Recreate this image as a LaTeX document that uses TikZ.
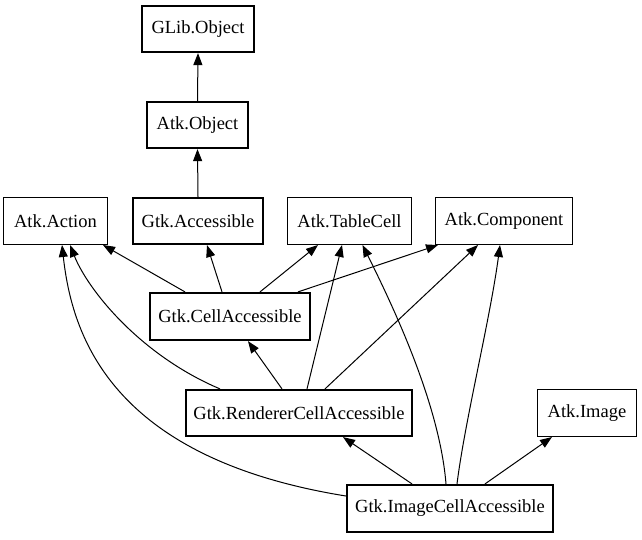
\documentclass[tikz,border=0pt]{standalone}
\usepackage{fontspec}
\setmainfont{Liberation Serif}
\usetikzlibrary{arrows.meta,calc}
\tikzset{
  cls/.style={draw, rectangle, inner sep=0pt, font=\fontsize{18.5}{20}\selectfont, fill=white},
  thickcls/.style={cls, line width=2.2pt},
  thincls/.style={cls, line width=1pt},
  inh/.style={draw, line width=1pt, -{Triangle[length=12pt,width=9pt]}}
}
\begin{document}
\begin{tikzpicture}[x=1pt,y=-1pt]
\useasboundingbox[fill=white] (0,0) rectangle (642,539);
\node[thickcls, minimum width=112pt, minimum height=46pt] (glib) at (198,29) {GLib.Object};
\node[thickcls, minimum width=101pt, minimum height=46pt] (atkobj) at (197.5,125) {Atk.Object};
\node[thincls, minimum width=104pt, minimum height=47pt] (action) at (55.5,221) {Atk.Action};
\node[thickcls, minimum width=130pt, minimum height=46pt] (gtkacc) at (198,221) {Gtk.Accessible};
\node[thincls, minimum width=124pt, minimum height=47pt] (table) at (349.5,221) {Atk.TableCell};
\node[thincls, minimum width=137pt, minimum height=47pt] (comp) at (504,221) {Atk.Component};
\node[thickcls, minimum width=160pt, minimum height=47pt] (cell) at (230,316.5) {Gtk.CellAccessible};
\node[thickcls, minimum width=226pt, minimum height=46pt] (rend) at (299,413) {Gtk.RendererCellAccessible};
\node[thincls, minimum width=99pt, minimum height=47pt] (img) at (587,413) {Atk.Image};
\node[thickcls, minimum width=206pt, minimum height=47pt] (imgcell) at (450,508.5) {Gtk.ImageCellAccessible};

\path[inh] (atkobj.north) -- (glib.south);
\path[inh] (gtkacc.north) -- (atkobj.south);

\path[inh] ($(cell.north)+(-45,0)$) -- ($(action.south)+(47.5,0)$);
\path[inh] ($(cell.north)+(-8,0)$) -- ($(gtkacc.south)+(9,0)$);
\path[inh] ($(cell.north)+(30,0)$) -- ($(table.south)+(-31.5,0)$);
\path[inh] ($(cell.north)+(68,0)$) -- ($(comp.south)+(-66,0)$);

\path[inh] ($(rend.north)+(-17,0)$) -- ($(cell.south)+(18,0)$);
\path[inh] ($(rend.north)+(-79,0)$) .. controls (140,355) and (88,290) .. ($(action.south)+(14.5,0)$);
\path[inh] ($(rend.north)+(8,0)$) -- ($(table.south)+(-7.5,0)$);
\path[inh] ($(rend.north)+(26,0)$) -- ($(comp.south)+(-26,0)$);

\path[inh] ($(imgcell.north)+(-38,0)$) -- ($(rend.south)+(44,0)$);
\path[inh] ($(imgcell.west)+(0,-12.5)$) .. controls (110,458) and (72,335) .. ($(action.south)+(6.5,0)$);
\path[inh] ($(imgcell.north)+(-4,0)$) .. controls (440,410) and (400,320) .. ($(table.south)+(13,0)$);
\path[inh] ($(imgcell.north)+(7,0)$) .. controls (465,420) and (490,320) .. ($(comp.south)+(-4,0)$);
\path[inh] ($(imgcell.north)+(35,0)$) -- ($(img.south)+(-35,0)$);
\end{tikzpicture}
\end{document}
